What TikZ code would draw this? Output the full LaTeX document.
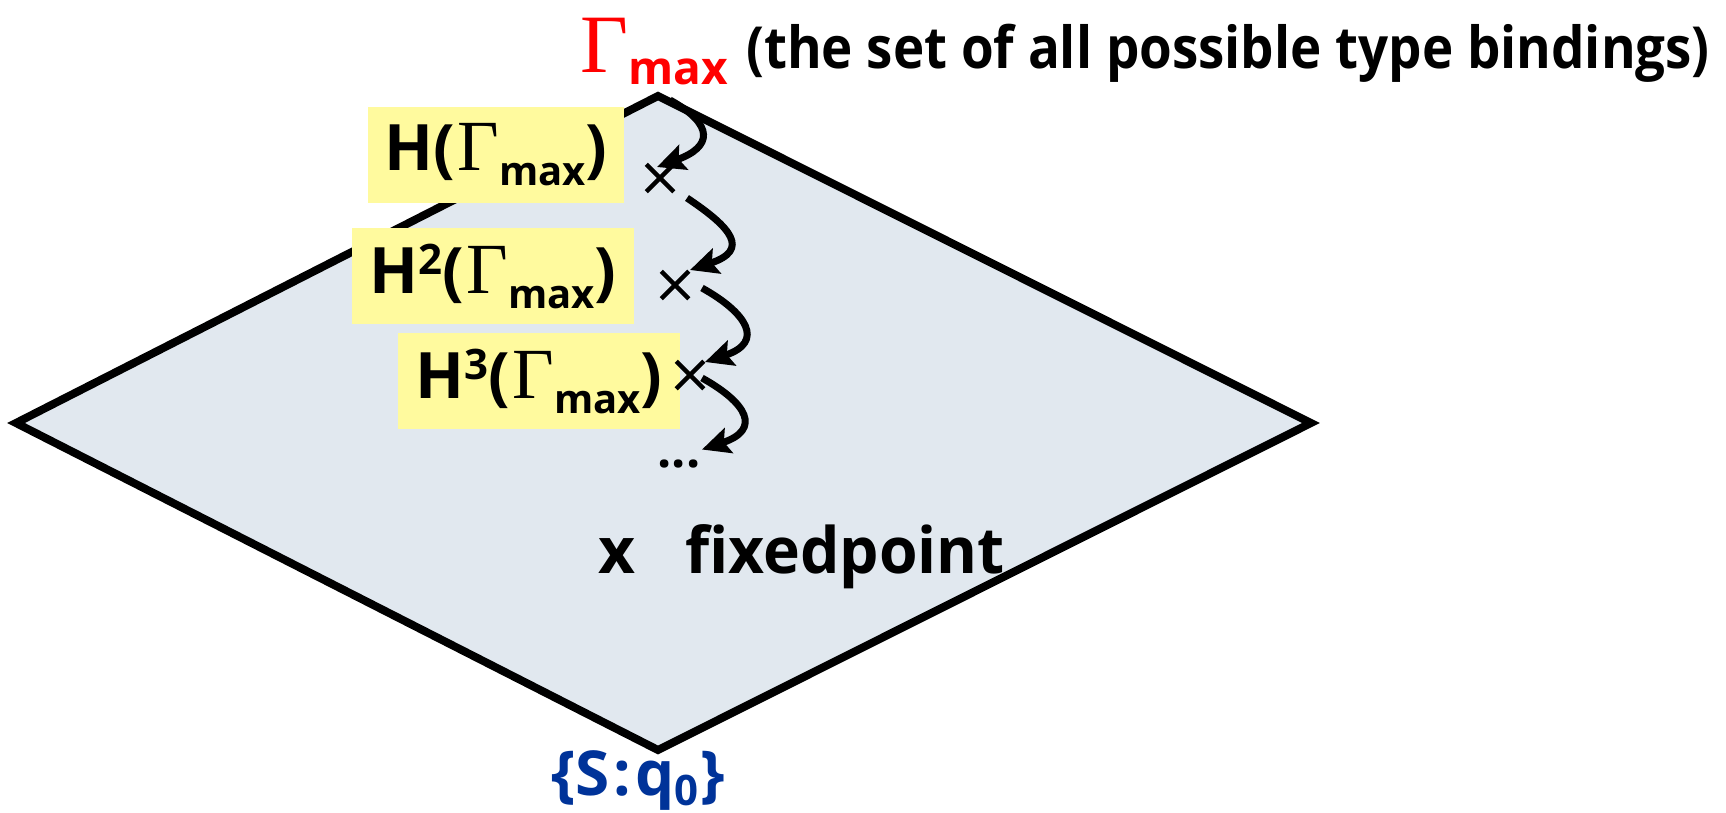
\documentclass[tikz,border=0pt]{standalone}
\usepackage{fontspec}
\setmainfont{Open Sans}
\newfontfamily\gamfont{Liberation Serif}
\usetikzlibrary{arrows.meta,shapes.misc,calc}
\definecolor{planefill}{HTML}{E1E8EF}
\definecolor{labelyellow}{HTML}{FFFA9E}
\definecolor{setblue}{HTML}{003399}
\newcommand{\fsz}[1]{\fontsize{#1}{#1}\selectfont}
\newcommand{\Hlab}[1]{\fsz{64}\bfseries H#1(\kern2pt{\gamfont\mdseries\fsz{72}Γ}\raisebox{-15pt}{\fsz{40}max})}
\begin{document}
\begin{tikzpicture}[x=1pt,y=-1pt,
  plane/.style={draw=black,line width=8pt,fill=planefill,line join=miter},
  hbox/.style={fill=labelyellow,inner sep=0pt,minimum height=96pt},
  xmark/.style={cross out,draw=black,line width=4.5pt,minimum size=23pt,inner sep=0pt},
  itarrow/.style={line width=7pt,-{Stealth[length=28pt,width=26pt,inset=5pt]}},
  txt/.style={inner sep=0pt,font=\bfseries}
]
\useasboundingbox (0,0) rectangle (1726,812);
% the plane
\coordinate (top) at (658,96);
\coordinate (right) at (1311,423);
\coordinate (bottom) at (658,750);
\coordinate (left) at (16,423);
\draw[plane] (top) -- (right) -- (bottom) -- (left) -- cycle;
% title
\node[txt,anchor=base west] (gmax) at (580,72)
  {{\color{red}\gamfont\mdseries\fsz{83}Γ}{\color{red}\fsz{46}\raisebox{-12pt}{max}}};
\node[txt,anchor=base west] (title) at (746,68) {\scalebox{0.912}[1]{\fsz{58}(the set of all possible type bindings)}};
% labels
\node[hbox,minimum width=256pt] (h1) at (496,155) {\Hlab{}};
\node[hbox,minimum width=282pt] (h2) at (493,276) {\Hlab{\raisebox{19pt}{\fsz{42}2}}};
\node[hbox,minimum width=282pt] (h3) at (539,381) {\Hlab{\raisebox{19pt}{\fsz{42}3}}};
% iterates
\node[xmark] (x1) at (660,178) {};
\node[xmark] (x2) at (675,285) {};
\node[xmark] (x3) at (690,375) {};
\node[txt,anchor=base] (dots) at (679,467) {\fsz{50}...};
\draw[itarrow] ($(top)+(12,4)$) .. controls +(45,25) and +(55,-20) .. ($(x1)+(-3,-11)$);
\draw[itarrow] ($(x1)+(27,20)$) .. controls +(45,30) and +(60,-20) .. ($(x2)+(15,-15)$);
\draw[itarrow] ($(x2)+(27,3)$) .. controls +(45,25) and +(60,-20) .. ($(x3)+(15,-13)$);
\draw[itarrow] ($(x3)+(12,3)$) .. controls +(45,25) and +(60,-20) .. ($(dots)+(23,-14)$);
% fixed point
\node[txt,anchor=base west] (fixp) at (598,573) {\fsz{64}x\hspace{50pt}\scalebox{0.975}[1]{fixedpoint}};
% bottom element
\node[txt,anchor=base west,text=setblue] (bot) at (551,795) {\fsz{62}\{S\kern4pt:\kern4pt q\raisebox{-10pt}{\fsz{42}0}\kern2pt\}};
\end{tikzpicture}
\end{document}
